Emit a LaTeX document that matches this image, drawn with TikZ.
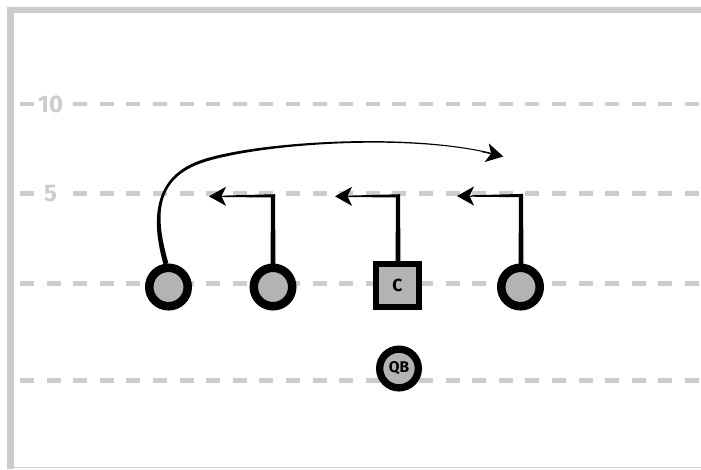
\documentclass[tikz,border=0pt]{standalone}
\usepackage{fontspec}
\setmainfont{Fira Sans}
\usetikzlibrary{arrows.meta,calc}
\definecolor{fieldgray}{HTML}{CCCCCC}
\definecolor{framegray}{HTML}{D6D6D6}
\definecolor{playergray}{HTML}{B3B3B3}
\begin{document}
\begin{tikzpicture}[x=1pt,y=-1pt,
  yard/.style={draw=fieldgray, line width=4.5pt, dash pattern=on 14pt off 12.6pt},
  yardlabel/.style={fill=white, text=fieldgray, font=\bfseries\fontsize{24}{24}\selectfont,
    inner sep=0pt, minimum width=28pt, minimum height=18pt, text height=16.5pt, text depth=0pt},
  player/.style={circle, draw=black, fill=playergray, line width=8.5pt,
    minimum size=38.5pt, inner sep=0pt},
  snapper/.style={rectangle, draw=black, fill=playergray, line width=6pt,
    minimum size=43pt, inner sep=0pt, font=\bfseries\fontsize{17.5}{17.5}\selectfont},
  qbstyle/.style={circle, draw=black, fill=playergray, line width=7.3pt,
    minimum size=38.7pt, inner sep=0pt, font=\bfseries\fontsize{15.5}{15.5}\selectfont},
  routetip/.style={line width=1pt, -{Stealth[length=17pt,width=19pt,inset=4.5pt]}}
]
\useasboundingbox (0,0) rectangle (701,469);
% frame
\fill[fieldgray] (7,7) rectangle (701,13.3);
\fill[fieldgray] (7,7) rectangle (14,469);
\draw[framegray, line width=1.5pt] (14,467.3) -- (701,467.3);
% yard lines
\foreach \yy in {104,193.7,283.3,380.3} \draw[yard] (20,\yy) -- (701,\yy);
\node[yardlabel] (l10) at (50.5,104) {10};
\node[yardlabel] (l5) at (50.5,193.7) {5};
% players
\node[player] (p1) at (168.5,287) {};
\node[player] (p2) at (273,287) {};
\node[player] (p4) at (520.5,287) {};
\node[snapper] (c) at (397.5,285.8) {C};
\node[qbstyle] (qb) at (399,368.5) {QB};
% route corners and tips
\coordinate (p2c) at (273,196);   \coordinate (p2t) at (209,196.3);
\coordinate (cc)  at (398,196);   \coordinate (ct)  at (335,196.3);
\coordinate (p4c) at (521,195.7); \coordinate (p4t) at (457,196);
\coordinate (arct) at (503.3,156.5);
% route p2
\fill ($(p2.north |- 0,266.5)+(-2.5,0)$) -- ($(p2.north |- 0,266.5)+(2.5,0)$) -- ($(p2c)+(2,-1.8)$)
  -- ($(p2t)+(14,-0.7)$) -- ($(p2t)+(14,0.7)$) -- ($(p2c)+(-2,1.5)$) -- cycle;
\draw[routetip] ($(p2t)+(15,0)$) -- (p2t);
% route c
\fill ($(cc |- c.north)+(-2.5,3)$) -- ($(cc |- c.north)+(2.5,3)$) -- ($(cc)+(2,-1.8)$)
  -- ($(ct)+(14,-0.7)$) -- ($(ct)+(14,0.7)$) -- ($(cc)+(-2,1.5)$) -- cycle;
\draw[routetip] ($(ct)+(15,0)$) -- (ct);
% route p4
\fill ($(p4c |- p4.north)+(-2.5,3)$) -- ($(p4c |- p4.north)+(2.5,3)$) -- ($(p4c)+(2,-1.8)$)
  -- ($(p4t)+(14,-0.7)$) -- ($(p4t)+(14,0.7)$) -- ($(p4c)+(-2,1.5)$) -- cycle;
\draw[routetip] ($(p4t)+(15,0)$) -- (p4t);
% arc route p1
\fill (168.4,263.3) .. controls (157.4,224.3) and (150.5,181.4) .. (200.5,163.4)
  .. controls (250.5,145.4) and (399.9,132.5) .. (489.9,153.5)
  -- (490.1,152.5) .. controls (400.1,131.5) and (249.5,142.6) .. (199.5,160.6)
  .. controls (149.5,178.6) and (152.6,225.7) .. (163.6,264.7) -- cycle;
\draw[routetip] ($(arct)+(-22,-5)$) -- (arct);
\end{tikzpicture}
\end{document}
